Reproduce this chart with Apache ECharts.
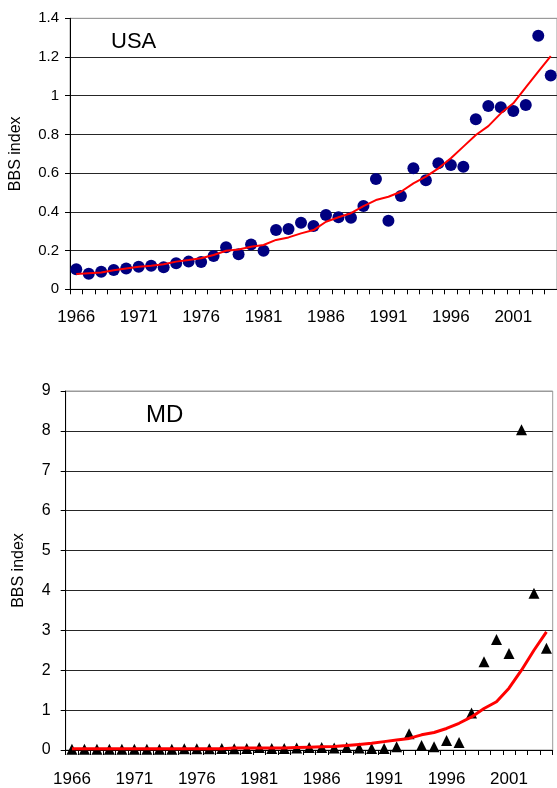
<!DOCTYPE html>
<html>
<head>
<meta charset="utf-8">
<script src="https://cdn.jsdelivr.net/npm/echarts@6/dist/echarts.min.js"></script>
<style>
html,body{margin:0;padding:0;background:#fff;}
#chart{width:557px;height:788px;}
</style>
</head>
<body>
<div id="chart"></div>
<script>
var years = ['1966','1967','1968','1969','1970','1971','1972','1973','1974','1975',
             '1976','1977','1978','1979','1980','1981','1982','1983','1984','1985',
             '1986','1987','1988','1989','1990','1991','1992','1993','1994','1995',
             '1996','1997','1998','1999','2000','2001','2002','2003','2004'];

var usaIndex = [0.103,0.080,0.091,0.100,0.108,0.117,0.122,0.114,0.134,0.143,
                0.141,0.172,0.217,0.181,0.232,0.199,0.306,0.311,0.344,0.327,
                0.384,0.372,0.370,0.430,0.570,0.354,0.482,0.625,0.563,0.651,
                0.642,0.633,0.878,0.947,0.940,0.921,0.952,1.310,1.105];

var usaTrend = [0.079,0.083,0.087,0.098,0.108,0.117,0.122,0.129,0.143,0.151,
                0.160,0.177,0.199,0.206,0.220,0.229,0.255,0.268,0.289,0.306,
                0.349,0.372,0.393,0.430,0.461,0.478,0.504,0.547,0.582,0.625,
                0.677,0.737,0.797,0.843,0.909,0.961,1.043,1.124,1.205];

var mdIndex = [0.02,0.02,0.02,0.02,0.02,0.02,0.02,0.02,0.02,0.03,
               0.03,0.03,0.04,0.03,0.04,0.06,0.04,0.04,0.05,0.06,
               0.06,0.05,0.06,0.05,0.04,0.04,0.08,0.41,0.11,0.08,
               0.24,0.19,0.93,2.21,2.77,2.42,8.03,3.93,2.55];

var mdTrend = [0.03,0.03,0.03,0.03,0.03,0.03,0.03,0.03,0.03,0.03,
               0.03,0.03,0.03,0.05,0.05,0.05,0.05,0.05,0.06,0.07,
               0.08,0.09,0.11,0.14,0.17,0.21,0.25,0.29,0.38,0.44,
               0.54,0.67,0.83,1.04,1.21,1.55,2.00,2.50,2.96];

var usaTicks = [0,0.2,0.4,0.6,0.8,1,1.2,1.4];
var mdTicks = [0,1,2,3,4,5,6,7,8,9];

var FONT = 'Arial, "Liberation Sans", sans-serif';

function gridColors(n){
  var c = [];
  for (var i = 0; i < n - 1; i++) c.push('#262626');
  c.push('#9a9a9a');
  return c;
}

var chart = echarts.init(document.getElementById('chart'), null, {renderer:'canvas'});

function xAxisCfg(gi, margin){
  return {
    type:'category', gridIndex:gi, data:years, boundaryGap:true,
    axisLine:{show:true, lineStyle:{color:'#000', width:1}},
    axisTick:{show:true, interval:0, length:5, lineStyle:{color:'#000'}},
    axisLabel:{interval:4, color:'#000', fontSize:17, fontFamily:FONT, margin:margin},
    splitLine:{show:false}
  };
}

var option = {
  animation:false,
  backgroundColor:'#fff',
  grid:[
    {left:67, top:18.3, width:493, height:271, show:true, borderColor:'#9a9a9a', borderWidth:1, backgroundColor:'transparent'},
    {left:65.7, top:391, width:487, height:359, show:true, borderColor:'#9a9a9a', borderWidth:1, backgroundColor:'transparent'}
  ],
  title:[
    {text:'USA', left:106, top:26, textStyle:{fontSize:22, fontWeight:'normal', color:'#000', fontFamily:FONT}},
    {text:'MD', left:141, top:398, textStyle:{fontSize:24, fontWeight:'normal', color:'#000', fontFamily:FONT}}
  ],
  xAxis:[xAxisCfg(0, 20), xAxisCfg(1, 21)],
  yAxis:[
    {type:'value', gridIndex:0, min:usaTicks[0], max:usaTicks[usaTicks.length-1], interval:0.2,
     name:'BBS index', nameLocation:'middle', nameRotate:90, nameGap:46,
     nameTextStyle:{fontSize:16, color:'#000', fontFamily:FONT},
     axisLine:{show:true, lineStyle:{color:'#000'}},
     axisTick:{show:true, length:5, lineStyle:{color:'#000'}},
     axisLabel:{color:'#000', fontSize:15, fontFamily:FONT, margin:11},
     splitLine:{show:true, lineStyle:{color:gridColors(usaTicks.length), width:1}}},
    {type:'value', gridIndex:1, min:mdTicks[0], max:mdTicks[mdTicks.length-1], interval:1,
     name:'BBS index', nameLocation:'middle', nameRotate:90, nameGap:39,
     nameTextStyle:{fontSize:16, color:'#000', fontFamily:FONT},
     axisLine:{show:true, lineStyle:{color:'#000'}},
     axisTick:{show:true, length:5, lineStyle:{color:'#000'}},
     axisLabel:{color:'#000', fontSize:16, fontFamily:FONT, margin:15},
     splitLine:{show:true, lineStyle:{color:gridColors(mdTicks.length), width:1}}}
  ],
  series:[
    {type:'scatter', xAxisIndex:0, yAxisIndex:0, data:usaIndex, symbol:'circle', symbolSize:12,
     itemStyle:{color:'#000080', opacity:1}, z:2},
    {type:'line', xAxisIndex:0, yAxisIndex:0, data:usaTrend, showSymbol:false, symbol:'none',
     lineStyle:{color:'#ff0000', width:2}, z:3},
    {type:'scatter', xAxisIndex:1, yAxisIndex:1, data:mdIndex, symbol:'triangle', symbolSize:[11,11],
     itemStyle:{color:'#000', opacity:1}, z:2},
    {type:'line', xAxisIndex:1, yAxisIndex:1, data:mdTrend, showSymbol:false, symbol:'none',
     lineStyle:{color:'#ff0000', width:3}, z:3}
  ]
};
chart.setOption(option);
</script>
</body>
</html>
